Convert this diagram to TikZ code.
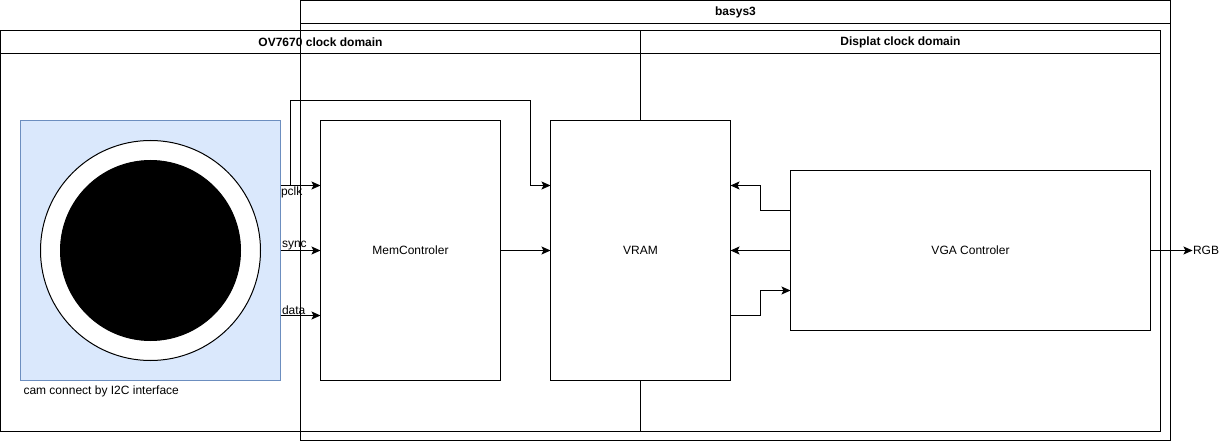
\documentclass[tikz,border=0pt]{standalone}
\usepackage{fontspec}
\setmainfont{Liberation Sans}
\usetikzlibrary{arrows.meta}
\definecolor{camfill}{HTML}{DAE8FC}
\definecolor{camline}{HTML}{6C8EBF}
\tikzset{
  frame/.style={draw,anchor=north west,inner sep=0pt,outer sep=0pt},
  lane/.style={frame,font=\fontsize{9}{11}\selectfont\bfseries},
  block/.style={frame,fill=white},
  wire/.style={-{Stealth[length=6.8pt,width=6pt,inset=1.5pt]}},
  sig/.style={inner sep=0pt,anchor=base west}
}
\begin{document}
\begin{tikzpicture}[x=0.75pt,y=-0.75pt,line width=0.75pt,font=\fontsize{9}{11}\selectfont]
    \useasboundingbox (-0.5,-0.5) rectangle (1220.5,441.5);
    % frames
    \node [frame,minimum width=652.5pt,minimum height=330pt] (Board) at (300,0) {};
    \node [lane,minimum width=652.5pt,minimum height=17.25pt] (BoardT) at (300,0) {basys3};
    \node [frame,minimum width=480pt,minimum height=300.75pt] (Cdom) at (0,30) {};
    \node [lane,minimum width=480pt,minimum height=17.25pt] (CdomT) at (0,30) {OV7670 clock domain};
    \node [frame,minimum width=390pt,minimum height=300.75pt] (Ddom) at (640,30) {};
    \node [lane,minimum width=390pt,minimum height=17.25pt] (DdomT) at (640,30) {Displat clock domain};
    % camera
    \node [frame,fill=camfill,draw=camline,minimum width=195pt,minimum height=195pt] (Cam) at (20,120) {};
    \node [draw,fill=white,circle,inner sep=0pt,outer sep=0pt,minimum size=165pt] (Ring) at (Cam.center) {};
    \node [draw,fill=black,circle,inner sep=0pt,outer sep=0pt,minimum size=135pt] (Lens) at (Cam.center) {};
    \node [sig] (CamL) at (22.5,394) {cam connect by I2C interface};
    % blocks
    \node [block,minimum width=135pt,minimum height=195pt,align=center] (Mem) at (320,120) {MemControler};
    \node [block,minimum width=135pt,minimum height=195pt,align=center] (Vram) at (550,120) {VRAM};
    \node [block,minimum width=270pt,minimum height=120pt,align=center] (Vga) at (790,170) {VGA Controler};
    \node [inner sep=0pt,anchor=west] (Rgb) at (1192,250) {RGB};
    % wires
    \draw [wire] (Cam.east |- 0,185) -- (Mem.west |- 0,185);
    \draw [wire] (Cam.east) -- (Mem.west);
    \draw [wire] (Cam.east |- 0,315) -- (Mem.west |- 0,315);
    \draw [wire] (290,185) -- (290,100) -- (530,100) -- (530,185) -- (Vram.west |- 0,185);
    \draw [wire] (Mem.east) -- (Vram.west);
    \draw [wire] (Vga.west |- 0,210) -- (760,210) -- (760,185) -- (Vram.east |- 0,185);
    \draw [wire] (Vga.west) -- (Vram.east);
    \draw [wire] (Vram.east |- 0,315) -- (760,315) -- (760,290) -- (Vga.west |- 0,290);
    \draw [wire] (Vga.east) -- (Rgb.west);
    % signal names
    \node [sig] (Pclk) at (280,195) {pclk};
    \node [sig] (Sync) at (281,247) {sync};
    \node [sig] (Data) at (281,314) {data};
\end{tikzpicture}
\end{document}
